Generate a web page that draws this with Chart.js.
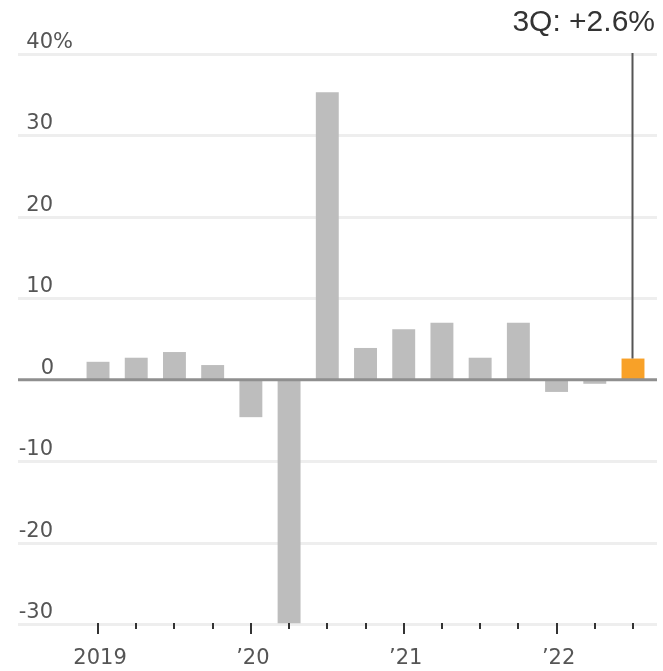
<!DOCTYPE html>
<html>
<head>
<meta charset="utf-8">
<script src="https://cdn.jsdelivr.net/npm/chart.js@4/dist/chart.umd.min.js"></script>
<style>
  html, body { margin: 0; padding: 0; background: #ffffff; }
  #wrap { width: 663px; height: 671px; position: relative; }
</style>
</head>
<body>
<div id="wrap"><canvas id="c" width="663" height="671"></canvas></div>
<script>
// ---- Data ----
const quarters = ['2019 Q1','2019 Q2','2019 Q3','2019 Q4',
                  '2020 Q1','2020 Q2','2020 Q3','2020 Q4',
                  '2021 Q1','2021 Q2','2021 Q3','2021 Q4',
                  '2022 Q1','2022 Q2','2022 Q3'];
const gdpGrowth = [2.2, 2.7, 3.4, 1.8,
                   -4.6, -29.9, 35.3, 3.9,
                   6.2, 7.0, 2.7, 7.0,
                   -1.5, -0.5, 2.6];
const yTicks = [40, 30, 20, 10, 0, -10, -20, -30];
const yTickLabels = ['40%', '30', '20', '10', '0', '-10', '-20', '-30'];
const yearLabels = ['2019', '\u201920', '\u201921', '\u201922'];
const yearStartIndex = [0, 4, 8, 12];
const calloutLabel = '3Q: +2.6%';

const GREY = '#bdbdbd';
const ORANGE = '#f8a128';
const barColors = gdpGrowth.map((v, i) => i === gdpGrowth.length - 1 ? ORANGE : GREY);

const points = gdpGrowth.map((v, i) => ({ x: i, y: v }));

const decor = {
  id: 'decor',
  beforeDatasetsDraw(chart) {
    const { ctx, chartArea, scales } = chart;
    const y = scales.y;
    ctx.save();
    ctx.strokeStyle = '#eeeeee';
    ctx.lineWidth = 3;
    yTicks.forEach(v => {
      if (v === 0) return;
      const py = Math.round(y.getPixelForValue(v)) + 0.5;
      ctx.beginPath();
      ctx.moveTo(chartArea.left, py);
      ctx.lineTo(chartArea.right, py);
      ctx.stroke();
    });
    ctx.restore();
  },
  afterDatasetsDraw(chart) {
    const { ctx, chartArea, scales } = chart;
    const x = scales.x, y = scales.y;
    ctx.save();
    // zero line
    const y0 = y.getPixelForValue(0);
    ctx.strokeStyle = '#8f8f8f';
    ctx.lineWidth = 3;
    ctx.beginPath();
    ctx.moveTo(chartArea.left, y0);
    ctx.lineTo(chartArea.right, y0);
    ctx.stroke();

    // y labels
    ctx.font = '21px "DejaVu Sans"';
    ctx.fillStyle = '#555555';
    ctx.textBaseline = 'alphabetic';
    const labelRight = chartArea.left + 35;
    yTicks.forEach((v, i) => {
      const py = y.getPixelForValue(v) - 6;
      let txt = yTickLabels[i];
      let suffix = '';
      if (txt.endsWith('%')) { suffix = '%'; txt = txt.slice(0, -1); }
      ctx.textAlign = 'right';
      ctx.fillText(txt, labelRight + (v === 0 ? 1 : 0), py);
      if (suffix) {
        ctx.textAlign = 'left';
        ctx.fillText(suffix, labelRight, py);
      }
    });

    // x ticks
    const yBottom = chartArea.bottom;
    ctx.strokeStyle = '#333333';
    ctx.lineWidth = 2;
    quarters.forEach((q, i) => {
      const px = Math.round(x.getPixelForValue(i));
      const major = yearStartIndex.includes(i);
      ctx.beginPath();
      ctx.moveTo(px, yBottom - 1);
      ctx.lineTo(px, yBottom + (major ? 10 : 5));
      ctx.stroke();
    });

    // year labels
    ctx.fillStyle = '#555555';
    ctx.textAlign = 'center';
    yearLabels.forEach((lab, k) => {
      const px = x.getPixelForValue(yearStartIndex[k]);
      ctx.fillText(lab, px + 2, yBottom + 40);
    });

    // callout line to last bar
    const last = gdpGrowth.length - 1;
    const lx = Math.round(x.getPixelForValue(last)) - 0.5;
    ctx.strokeStyle = '#555555';
    ctx.lineWidth = 2;
    ctx.beginPath();
    ctx.moveTo(lx, y.getPixelForValue(yTicks[0]) - 1);
    ctx.lineTo(lx, y.getPixelForValue(gdpGrowth[last]));
    ctx.stroke();

    // callout label
    ctx.font = '30px "Liberation Sans"';
    ctx.fillStyle = '#333333';
    ctx.textAlign = 'right';
    ctx.fillText(calloutLabel, chartArea.right - 2, 31);
    ctx.restore();
  }
};

new Chart(document.getElementById('c'), {
  type: 'bar',
  data: {
    labels: quarters,
    datasets: [{
      data: points,
      backgroundColor: barColors,
      borderWidth: 0,
      barPercentage: 0.6,
      categoryPercentage: 1.0
    }]
  },
  options: {
    responsive: false,
    animation: false,
    events: [],
    layout: { padding: { left: 18, right: 6, top: 54, bottom: 47 } },
    plugins: { legend: { display: false }, tooltip: { enabled: false } },
    scales: {
      x: { type: 'linear', min: -2.094, max: 14.628, offset: false, display: false },
      y: { type: 'linear', min: -30, max: 40, display: false }
    }
  },
  plugins: [decor]
});
</script>
</body>
</html>
